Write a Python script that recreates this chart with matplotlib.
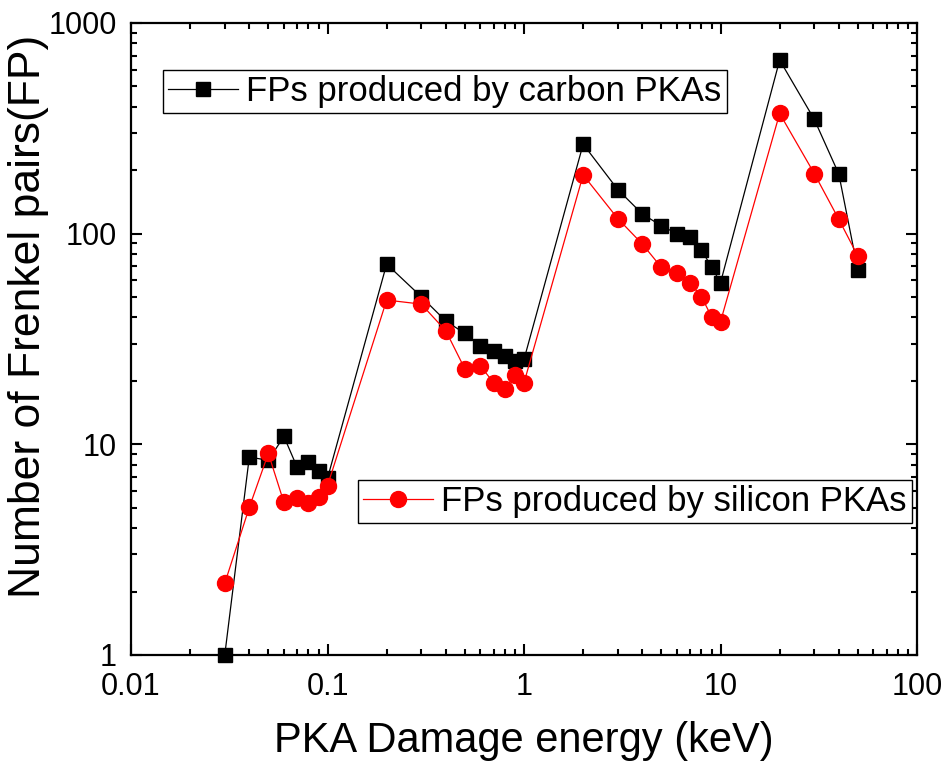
import matplotlib
matplotlib.use("Agg")
import matplotlib.pyplot as plt
from matplotlib.ticker import FixedLocator, FixedFormatter, LogLocator, NullFormatter

plt.rcParams['font.family'] = ['Liberation Sans', 'DejaVu Sans']

# PKA damage energy (keV)
energy = [0.03, 0.04, 0.05, 0.06, 0.07, 0.08, 0.09, 0.1,
          0.2, 0.3, 0.4, 0.5, 0.6, 0.7, 0.8, 0.9, 1.0,
          2, 3, 4, 5, 6, 7, 8, 9, 10,
          20, 30, 40, 50]

# Frenkel pairs produced by carbon PKAs
fp_carbon = [1.0, 8.7, 8.4, 10.9, 7.8, 8.2, 7.5, 6.9,
             71.7, 50.2, 38.5, 33.6, 29.3, 27.7, 26.2, 24.9, 25.3,
             266, 162, 124, 109, 100, 96.6, 83.5, 69.6, 58.5,
             667, 349, 192, 67.2]

# Frenkel pairs produced by silicon PKAs
fp_silicon = [2.19, 5.02, 9.06, 5.30, 5.54, 5.25, 5.60, 6.36,
              48.4, 46.3, 34.6, 22.8, 23.6, 19.6, 18.4, 21.3, 19.6,
              190, 118, 89.3, 69.2, 64.8, 58.5, 50.2, 40.4, 38.2,
              372, 193, 117, 78.3]

x_ticks = [0.01, 0.1, 1, 10, 100]
x_tick_labels = ["0.01", "0.1", "1", "10", "100"]
y_ticks = [1, 10, 100, 1000]
y_tick_labels = ["1", "10", "100", "1000"]

fig = plt.figure(figsize=(9.45, 7.67), dpi=100)
ax = fig.add_axes([131 / 945, 1 - 655 / 767, 786 / 945, 632 / 767])

line_c, = ax.plot(energy, fp_carbon, color='black', lw=0.9, marker='s',
                  markersize=9.5, markerfacecolor='black', markeredgecolor='black',
                  clip_on=False, zorder=3)
line_s, = ax.plot(energy, fp_silicon, color='red', lw=0.9, marker='o',
                  markersize=11.5, markerfacecolor='red', markeredgecolor='red',
                  clip_on=False, zorder=4)

ax.set_xscale('log')
ax.set_yscale('log')
ax.set_xlim(0.01, 100)
ax.set_ylim(1, 1000)

ax.xaxis.set_major_locator(FixedLocator(x_ticks))
ax.xaxis.set_major_formatter(FixedFormatter(x_tick_labels))
ax.yaxis.set_major_locator(FixedLocator(y_ticks))
ax.yaxis.set_major_formatter(FixedFormatter(y_tick_labels))
ax.xaxis.set_minor_locator(LogLocator(base=10, subs=range(2, 10), numticks=20))
ax.yaxis.set_minor_locator(LogLocator(base=10, subs=range(2, 10), numticks=20))
ax.xaxis.set_minor_formatter(NullFormatter())
ax.yaxis.set_minor_formatter(NullFormatter())

ax.tick_params(which='both', direction='in', top=True, right=True, width=1.5)
ax.tick_params(which='major', length=8, labelsize=22)
ax.tick_params(axis='x', which='major', pad=12)
ax.tick_params(axis='y', which='major', pad=10)
ax.tick_params(which='minor', length=4.5)
for sp in ax.spines.values():
    sp.set_linewidth(1.6)

ax.set_xlabel("PKA Damage energy (keV)", fontsize=30, labelpad=14)
ax.set_ylabel("Number of Frenkel pairs(FP)", fontsize=32)
ax.yaxis.set_label_coords(-0.104, 0.536)

leg_kw = dict(fontsize=25, frameon=True, fancybox=False, edgecolor='black',
              framealpha=1, borderpad=0.15, handlelength=2.0, handletextpad=0.25,
              borderaxespad=0, loc='upper left')
leg1 = ax.legend([line_c], ["FPs produced by carbon PKAs"],
                 bbox_to_anchor=(32 / 786, (655 - 70) / 632), **leg_kw)
leg1.get_frame().set_linewidth(1.0)
ax.add_artist(leg1)
leg2 = ax.legend([line_s], ["FPs produced by silicon PKAs"],
                 bbox_to_anchor=(227 / 786, (655 - 480) / 632), **leg_kw)
leg2.get_frame().set_linewidth(1.0)

fig.savefig("out.png", dpi=100)
